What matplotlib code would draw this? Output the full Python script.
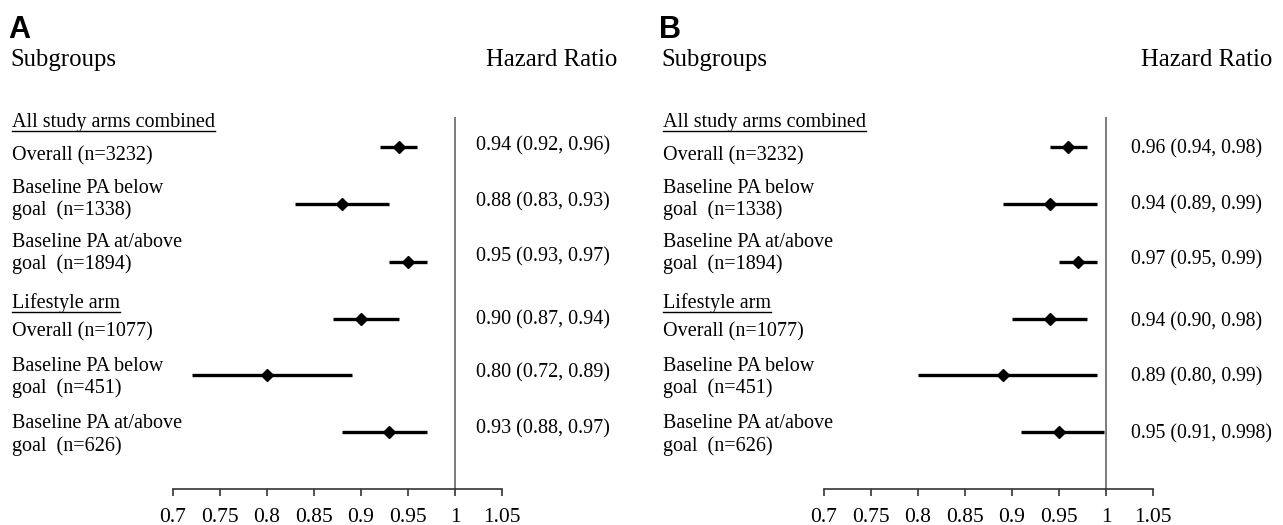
import matplotlib
matplotlib.use("Agg")
import matplotlib.pyplot as plt

plt.rcParams.update({"font.family": "Liberation Serif", "font.size": 14.5})

# data
panels = ["A", "B"]
groups = ["All study arms combined", "Lifestyle arm"]
labels = ["Overall (n=3232)", "Baseline PA below\ngoal  (n=1338)",
          "Baseline PA at/above\ngoal  (n=1894)", "Overall (n=1077)",
          "Baseline PA below\ngoal  (n=451)", "Baseline PA at/above\ngoal  (n=626)"]
hr_a = [0.94, 0.88, 0.95, 0.90, 0.80, 0.93]
lo_a = [0.92, 0.83, 0.93, 0.87, 0.72, 0.88]
hi_a = [0.96, 0.93, 0.97, 0.94, 0.89, 0.97]
hr_b = [0.96, 0.94, 0.97, 0.94, 0.89, 0.95]
lo_b = [0.94, 0.89, 0.95, 0.90, 0.80, 0.91]
hi_b = [0.98, 0.99, 0.99, 0.98, 0.99, 0.998]
xticks = [0.7, 0.75, 0.8, 0.85, 0.9, 0.95, 1, 1.05]
tick_labels = ["0.7", "0.75", "0.8", "0.85", "0.9", "0.95", "1", "1.05"]

# layout (pixel rows of the 1283x525 canvas)
W, H = 1283, 525
row_y = [147, 204, 262, 319, 375, 432]
label_y = [155.5, 199.5, 253.5, 332, 377.5, 435]
ci_y = [[146, 202, 257, 320, 373, 429], [149, 205, 260, 322, 377, 434]]
ci_x = [476, 1131]
ci_size = [14.5, 14.2]
group_y = [122, 303]
panel_off = [0, 651]          # horizontal offset of each panel
ax_left, ax_right = 173, 502  # 0.7 .. 1.05
ax_top, ax_bot = 117, 489


def fmt(v):
    return f"{v:.2f}" if round(v, 2) == v else f"{v:.3f}"


fig = plt.figure(figsize=(W / 100, H / 100), dpi=100)
ov = fig.add_axes([0, 0, 1, 1])
ov.set_xlim(0, W); ov.set_ylim(H, 0); ov.axis("off")

series = [(hr_a, lo_a, hi_a), (hr_b, lo_b, hi_b)]
for p, (hr, lo, hi) in enumerate(series):
    off = panel_off[p]
    ax = fig.add_axes([(ax_left + off) / W, 1 - ax_bot / H,
                       (ax_right - ax_left) / W, (ax_bot - ax_top) / H])
    ax.set_xlim(0.7, 1.05)
    ax.set_ylim(ax_bot, ax_top)
    ax.patch.set_alpha(0)
    for s in ["top", "right", "left"]:
        ax.spines[s].set_visible(False)
    ax.spines["bottom"].set_color("#333333")
    ax.spines["bottom"].set_linewidth(1.2)
    ax.set_yticks([])
    ax.set_xticks(xticks)
    ax.set_xticklabels(tick_labels, fontsize=15.5)
    ax.tick_params(axis="x", direction="out", length=5, width=1.2,
                   color="#333333", pad=9)
    ax.axvline(1.0, color="#666666", lw=1.2)
    ax.hlines(row_y, lo, hi, color="black", lw=2.4)
    ax.plot(hr, row_y, "D", color="black", ms=6.5)

    # left text column
    ov.text(8 + off, 38, panels[p], family="Liberation Sans",
            fontweight="bold", fontsize=22, va="baseline", ha="left")
    ov.text(10 + off, 66, "Subgroups", fontsize=17.8, va="baseline")
    ov.text(617 + off + (4 if p else 0), 66, "Hazard Ratio", fontsize=17.8,
            va="baseline", ha="right")
    for g, gy in zip(groups, group_y):
        t = ov.text(12 + off, gy, g, fontsize=14.5, va="center")
        fig.canvas.draw()
        bb = t.get_window_extent().transformed(ov.transData.inverted())
        x0, x1 = sorted([bb.x0, bb.x1])
        ov.plot([x0, x1], [gy + 8.5, gy + 8.5], color="black", lw=1)
    for lab, ly in zip(labels, label_y):
        ov.text(12 + off, ly, lab, fontsize=14.5, va="center",
                linespacing=1.2)
    for v, l, h, cy in zip(hr, lo, hi, ci_y[p]):
        ov.text(ci_x[p], cy, f"{fmt(v)} ({fmt(l)}, {fmt(h)})",
                fontsize=ci_size[p], va="center")

fig.savefig("out.png", dpi=100, facecolor="white")
